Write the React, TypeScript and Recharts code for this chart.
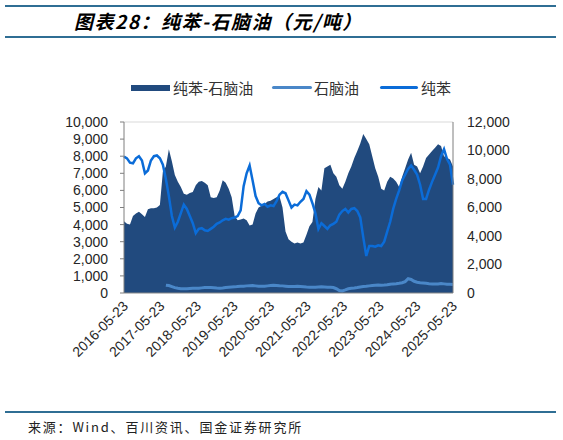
import { ComposedChart, Area, Line, XAxis, YAxis, ReferenceLine } from 'recharts'

// weekly-ish samples, 2016-05-23 .. 2025-05-23
const dateLabels = [
    '2016-05-23', '2017-05-23', '2018-05-23', '2019-05-23', '2020-05-23',
    '2021-05-23', '2022-05-23', '2023-05-23', '2024-05-23', '2025-05-23',
]

// 纯苯-石脑油 (left axis)
const spread = [
    4200, 4050, 4000, 4500, 4650, 4750, 4600, 4450, 4900, 4950,
    4950, 5000, 5150, 7100, 7400, 8400, 7700, 6900, 6500, 6200,
    5800, 5750, 5850, 5900, 6300, 6500, 6550, 6450, 6300, 5600,
    5550, 5600, 6000, 6600, 6450, 6100, 5600, 4500, 4250, 4300,
    4350, 4250, 3950, 4000, 4650, 5000, 5100, 5200, 5350, 5400,
    5500, 5600, 5650, 5000, 3600, 3150, 3000, 2900, 2950, 2900,
    2950, 3400, 3900, 4150, 5500, 6200, 6000, 7300, 7400, 7500,
    7000, 6800, 6300, 6100, 6500, 7000, 7400, 7900, 8300, 8750,
    9300, 9000, 8700, 8000, 7300, 6800, 6100, 6000, 6500, 6800,
    6700, 6500, 6200, 6800, 7300, 7800, 8200, 7500, 7400, 7000,
    7400, 7900, 8100, 8300, 8500, 8700, 8600, 8000, 7900, 7800,
    7400,
]

// 石脑油 (right axis), series begins in 2017
const naphtha = [
    null, null, null, null, null, null, null, null, null, null,
    null, null, null, null, 550, 520, 450, 380, 330, 300,
    290, 300, 320, 340, 330, 340, 360, 380, 390, 380,
    370, 350, 340, 350, 380, 400, 420, 430, 450, 470,
    480, 500, 510, 520, 500, 480, 470, 480, 500, 520,
    540, 530, 510, 500, 480, 460, 450, 460, 470, 460,
    440, 420, 410, 400, 410, 420, 430, 420, 410, 400,
    380, 300, 180, 150, 220, 300, 330, 350, 380, 420,
    450, 470, 500, 520, 540, 560, 550, 560, 580, 620,
    640, 650, 680, 720, 800, 1000, 950, 820, 760, 720,
    700, 680, 650, 640, 630, 640, 660, 640, 620, 610,
    600,
]

// 纯苯 (right axis)
const benzene = [
    9570, 9450, 9150, 9100, 9450, 9600, 9300, 8400, 8600, 9300,
    9600, 9650, 9450, 9000, 8000, 6800, 5400, 4600, 5000, 5600,
    6200, 5900, 5400, 4900, 4200, 4500, 4550, 4400, 4350, 4500,
    4650, 4850, 4950, 5100, 5200, 5150, 5250, 5300, 5400, 5800,
    7500, 8400, 8950, 7900, 6800, 6300, 6150, 6250, 6050, 6150,
    6100, 6450, 6900, 7100, 7000, 6500, 6000, 6200, 6150, 6400,
    6600, 7150, 6900, 6300, 5600, 4500, 4900, 4700, 4500, 4750,
    4850, 5000, 5500, 5750, 5900, 5650, 5900, 5950, 5750, 5300,
    3900, 2600, 3300, 3300, 3250, 3350, 3300, 3600, 4300, 5000,
    5900, 6600, 7200, 7900, 8300, 8700, 8950, 8650, 8300, 7600,
    6600, 6600, 7250, 7800, 8300, 8800, 9600, 10100, 9400, 9000,
    7600,
]

const leftTicks = [0, 1000, 2000, 3000, 4000, 5000, 6000, 7000, 8000, 9000, 10000]
const rightTicks = [0, 2000, 4000, 6000, 8000, 10000, 12000]

const SPREAD_COLOR = '#214a7e'
const NAPHTHA_COLOR = '#4a87c8'
const BENZENE_COLOR = '#0b6cd8'
const RULE_COLOR = '#2f6e94'

const data = spread.map((v, i) => ({
    i,
    spread: v,
    naphtha: naphtha[i],
    benzene: benzene[i],
}))

const lastIndex = spread.length - 1
const xTicks = dateLabels.map((_, k) => (k * lastIndex) / (dateLabels.length - 1))

const fmt = (v: number) => v.toLocaleString('en-US')

const DateTick = (props: any) => {
    const { x, y, payload } = props
    const k = Math.round(payload.value / (lastIndex / (dateLabels.length - 1)))
    const tx = x + 5
    const ty = y + 14
    return (
        <text
            x={tx}
            y={ty}
            transform={`rotate(-45, ${tx}, ${ty})`}
            textAnchor="end"
            fontSize={14}
            fontFamily="'Liberation Sans', Arial, sans-serif"
            fill="#262626"
        >
            {dateLabels[k]}
        </text>
    )
}

const axisFont = { fontSize: 14, fill: '#262626', fontFamily: "'Liberation Sans', Arial, sans-serif" }
const cjk = "'Noto Sans CJK SC', 'Noto Sans', sans-serif"

export default function App() {
    return (
        <div style={{ position: 'absolute', left: 0, top: 0, width: 563, height: 440, background: '#fff' }}>
            <div style={{ position: 'absolute', left: 5, top: 5, width: 551, height: 2, background: RULE_COLOR }} />
            <div
                style={{
                    position: 'absolute',
                    left: 74,
                    top: 7,
                    fontFamily: cjk,
                    fontSize: 19,
                    fontWeight: 'bold',
                    fontStyle: 'italic',
                    letterSpacing: 1.5,
                    color: '#000',
                    lineHeight: '28px',
                }}
            >
                图表28：纯苯-石脑油（元/吨）
            </div>
            <div style={{ position: 'absolute', left: 5, top: 36, width: 551, height: 2, background: RULE_COLOR }} />

            {/* legend */}
            <div style={{ position: 'absolute', left: 131, top: 85, width: 39, height: 6, background: SPREAD_COLOR }} />
            <div style={{ position: 'absolute', left: 173, top: 77, fontFamily: cjk, fontSize: 15, color: '#333', lineHeight: '22px' }}>
                纯苯-石脑油
            </div>
            <div style={{ position: 'absolute', left: 272, top: 86, width: 40, height: 3, background: NAPHTHA_COLOR, borderRadius: 2 }} />
            <div style={{ position: 'absolute', left: 314, top: 77, fontFamily: cjk, fontSize: 15, color: '#333', lineHeight: '22px' }}>
                石脑油
            </div>
            <div style={{ position: 'absolute', left: 380, top: 86, width: 38, height: 3, background: BENZENE_COLOR, borderRadius: 2 }} />
            <div style={{ position: 'absolute', left: 421, top: 77, fontFamily: cjk, fontSize: 15, color: '#333', lineHeight: '22px' }}>
                纯苯
            </div>

            <div style={{ position: 'absolute', left: 0, top: 0 }}>
                <ComposedChart width={563} height={440} data={data} margin={{ top: 122, right: 40, bottom: 87, left: 64 }}>
                    <XAxis
                        dataKey="i"
                        type="number"
                        domain={[0, lastIndex]}
                        ticks={xTicks}
                        interval={0}
                        tick={<DateTick />}
                        tickLine={false}
                        tickSize={0}
                        tickMargin={0}
                        axisLine={{ stroke: '#888' }}
                        height={60}
                    />
                    <YAxis
                        yAxisId="left"
                        domain={[0, 10000]}
                        ticks={leftTicks}
                        tickFormatter={fmt}
                        tick={axisFont}
                        axisLine={{ stroke: '#7f7f7f' }}
                        tickLine={{ stroke: '#7f7f7f' }}
                        tickSize={4}
                        tickMargin={12}
                        width={60}
                        interval={0}
                    />
                    <YAxis
                        yAxisId="right"
                        orientation="right"
                        domain={[0, 12000]}
                        ticks={rightTicks}
                        tickFormatter={fmt}
                        tick={{ ...axisFont, textAnchor: 'start' }}
                        axisLine={{ stroke: '#7f7f7f' }}
                        tickLine={false}
                        tickSize={0}
                        tickMargin={14}
                        width={70}
                        interval={0}
                    />
                    <ReferenceLine yAxisId="left" y={10000} stroke="#d9d9d9" />
                    <Area
                        yAxisId="left"
                        dataKey="spread"
                        type="linear"
                        stroke="none"
                        fill={SPREAD_COLOR}
                        fillOpacity={1}
                        isAnimationActive={false}
                    />
                    <Line
                        yAxisId="right"
                        dataKey="naphtha"
                        type="linear"
                        stroke={NAPHTHA_COLOR}
                        strokeWidth={3}
                        dot={false}
                        isAnimationActive={false}
                    />
                    <Line
                        yAxisId="right"
                        dataKey="benzene"
                        type="linear"
                        stroke={BENZENE_COLOR}
                        strokeWidth={2.5}
                        dot={false}
                        isAnimationActive={false}
                    />
                </ComposedChart>
            </div>

            <div style={{ position: 'absolute', left: 5, top: 411, width: 551, height: 2, background: RULE_COLOR }} />
            <div
                style={{
                    position: 'absolute',
                    left: 28,
                    top: 418,
                    fontFamily: cjk,
                    fontSize: 13,
                    letterSpacing: 1.8,
                    color: '#222',
                    lineHeight: '18px',
                }}
            >
                来源：Wind、百川资讯、国金证券研究所
            </div>
        </div>
    )
}
